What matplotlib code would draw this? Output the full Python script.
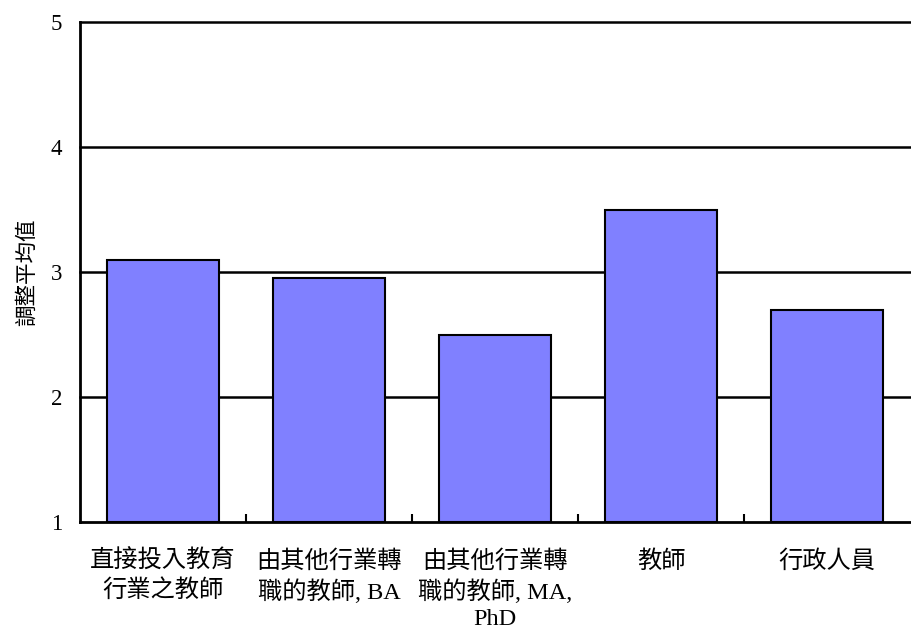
import matplotlib
matplotlib.use("Agg")
from matplotlib import pyplot as plt

## 各組別及其調整平均值
categories = ["直接投入教育\n行業之教師",
              "由其他行業轉\n職的教師, BA",
              "由其他行業轉\n職的教師, MA,\nPhD",
              "教師",
              "行政人員"]
values = [3.1, 2.95, 2.5, 3.5, 2.7]
yticks = [1, 2, 3, 4, 5]

font_mix = ["Liberation Serif", "Noto Sans CJK TC", "DejaVu Sans"]

fig = plt.figure(figsize=(9.11, 6.3), dpi=100)
ax = fig.add_axes([80 / 911, 108 / 630, 830 / 911, 500 / 630])

x = range(len(categories))
ax.bar(x, [v - 1 for v in values], bottom=1, width=0.675,
       color="#8080FF", edgecolor="black", linewidth=1.5, zorder=3)

## 水平格線
for y in yticks[1:]:
    ax.axhline(y, color="black", linewidth=1.8, zorder=1, clip_on=False)

ax.set_xlim(-0.5, len(categories) - 0.5)
ax.set_ylim(1, 5)
ax.set_yticks(yticks)
ax.set_yticklabels([str(t) for t in yticks], family="Liberation Serif",
                   fontsize=16.5)
ax.tick_params(axis="y", length=0, pad=13)

## x 軸刻度在類別之間，朝內
ax.set_xticks([i + 0.5 for i in range(len(categories) - 1)], minor=True)
ax.set_xticks(list(x))
ax.set_xticklabels(categories, family=font_mix, fontsize=17.5,
                   linespacing=1.33, va="top")
ax.tick_params(axis="x", which="major", length=0, pad=20)
ax.tick_params(axis="x", which="minor", direction="in", length=6,
               width=1.5, color="black")

for side in ["top", "right"]:
    ax.spines[side].set_visible(False)
for side in ["left", "bottom"]:
    ax.spines[side].set_linewidth(2)
    ax.spines[side].set_zorder(4)

ax.set_ylabel("調整平均值", family=["Noto Sans CJK TC", "DejaVu Sans"],
              fontsize=15.5)
ax.yaxis.set_label_coords(-42 / 830, 0.5)

fig.savefig("out.png", dpi=100)
